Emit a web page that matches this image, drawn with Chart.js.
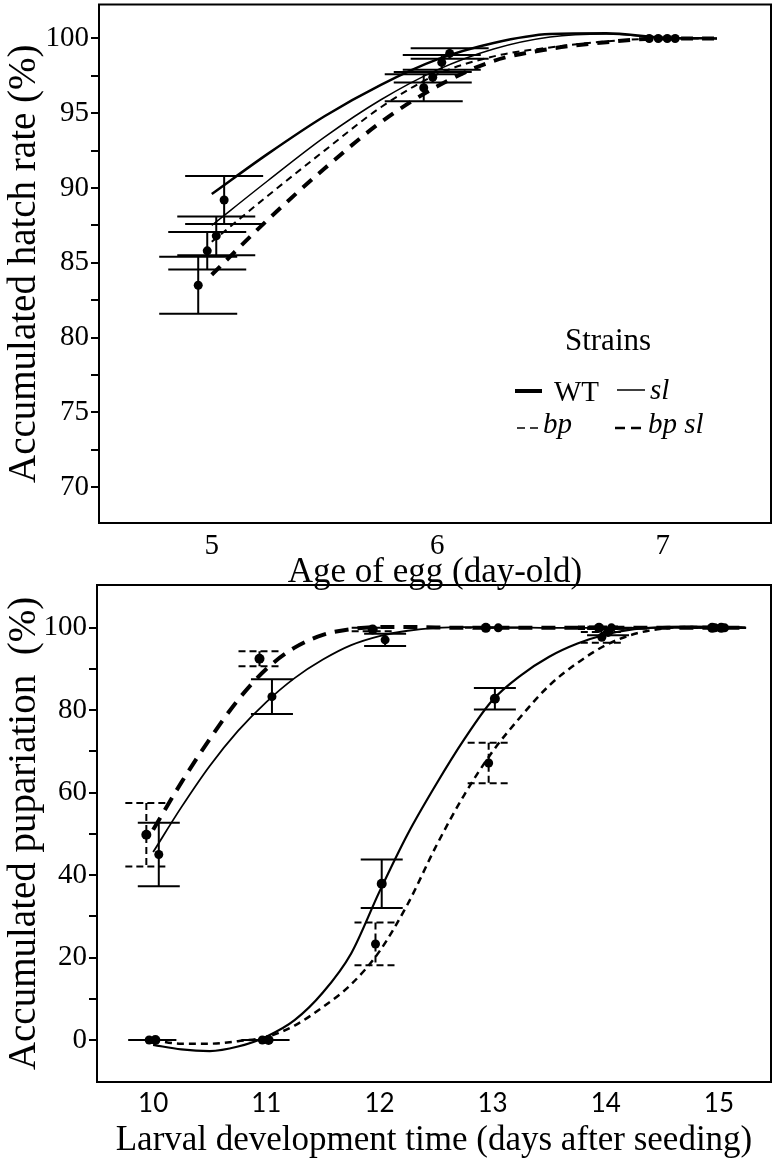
<!DOCTYPE html>
<html><head><meta charset="utf-8">
<script src="https://cdn.jsdelivr.net/npm/chart.js@4.4.1/dist/chart.umd.min.js"></script>
<style>
html,body{margin:0;padding:0;background:#fff;}
#c1{position:absolute;left:0;top:0;}
#c2{position:absolute;left:0;top:570px;}
</style></head><body>
<canvas id="c1" width="780" height="600"></canvas>
<canvas id="c2" width="780" height="597"></canvas>
<script>
// ================= DATA : hatch rate (top panel) =================
const eggDays = [5, 6, 7];
const hatchWT      = [89.2, 99.0, 100];
const hatchWTErr   = [1.6, 0.35, 0];
const hatchSl      = [86.8, 98.4, 100];
const hatchSlErr   = [1.3, 0.5, 0];
const hatchBp      = [85.8, 97.4, 100];
const hatchBpErr   = [1.25, 0.35, 0];
const hatchBpSl    = [83.5, 96.7, 100];
const hatchBpSlErr = [1.9, 0.9, 0];
// fitted curves
const hatchCurveX    = [5.0, 5.25, 5.5, 5.75, 6.0, 6.25, 6.5, 6.75, 7.0, 7.24];
const hatchCurveWT   = [89.6, 92.3, 94.8, 96.9, 98.6, 99.7, 100.3, 100.35, 100.05, 100];
const hatchCurveSl   = [87.5, 90.5, 93.4, 95.9, 97.9, 99.3, 100.1, 100.3, 100.05, 100];
const hatchCurveBp   = [86.4, 89.5, 92.5, 95.4, 97.6, 98.8, 99.4, 99.8, 100, 100];
const hatchCurveBpSl = [84.2, 87.9, 91.3, 94.4, 96.8, 98.5, 99.3, 99.75, 100, 100];
const hatchYTicks = [70, 72.5, 75, 77.5, 80, 82.5, 85, 87.5, 90, 92.5, 95, 97.5, 100];

// ================= DATA : pupariation (bottom panel) =================
const pupDays = [10, 11, 12, 13, 14, 15];
const pupWT      = [0, 0, 37.9, 82.8, 99.0, 100];
const pupWTErr   = [0, 0, 5.9, 2.6, 0.8, 0];
const pupBp      = [0, 0, 23.3, 67.2, 97.7, 100];
const pupBpErr   = [0, 0, 5.2, 4.9, 1.3, 0];
const pupSl      = [45, 83.3, 97.1, 100, 100, 100];
const pupSlErr   = [7.7, 4.2, 1.5, 0, 0, 0];
const pupBpSl    = [49.8, 92.5, 99.6, 100, 100, 100];
const pupBpSlErr = [7.7, 1.8, 0.4, 0, 0.3, 0];
const pupCurveX    = [10, 10.25, 10.5, 10.75, 11, 11.25, 11.5, 11.75, 12, 12.25, 12.5, 12.75, 13, 13.25, 13.5, 13.75, 14, 14.25, 14.5, 14.75, 15, 15.24];
const pupCurveBpSl = [51, 62.5, 73, 82.5, 90, 95.2, 98.3, 99.7, 100.2, 100.2, 100.1, 100, 100, 100, 100, 100, 100, 100, 100, 100, 100, 100];
const pupCurveSl   = [45.6, 56.5, 66.5, 75, 82, 87.8, 92.3, 95.8, 98.0, 99.3, 100.0, 100.2, 100.2, 100.1, 100, 100, 100, 100, 100, 100, 100, 100];
const pupCurveWT   = [-1.2, -2.3, -2.7, -1.6, 0.8, 4.8, 11.5, 21, 36, 50, 62, 73, 82.5, 88.5, 93, 96.2, 98.4, 99.7, 100.2, 100.3, 100.2, 100];
const pupCurveBp   = [0, -0.9, -0.9, -0.3, 0.7, 3.5, 8, 13.5, 21.5, 33, 47, 59.5, 70, 78.5, 86, 91.5, 95.8, 98.5, 99.8, 100.2, 100.2, 100];
const pupYTicks = [0, 10, 20, 30, 40, 50, 60, 70, 80, 90, 100];

// horizontal dodge of the strains (days)
const hatchDodge = {WT: 0.055, sl: 0.02, bp: -0.02, bpsl: -0.06};
const pupDodge   = {WT: 0.02, sl: 0.05, bp: -0.035, bpsl: -0.06};

// ================= helpers =================
const SERIF = 'Liberation Serif';
const zip = (xs, ys, dx = 0) => xs.map((x, i) => ({x: x + dx, y: ys[i]}));
const curve = (xs, ys, width, dash) => ({
  data: zip(xs, ys), showLine: true, pointRadius: 0, borderColor: '#000',
  borderWidth: width, borderDash: dash, cubicInterpolationMode: 'monotone', fill: false
});
const pts = (xs, ys, err, dx, r, capHalf, errDash, capsAlways) => ({
  data: zip(xs, ys, dx), showLine: false, pointRadius: r, pointBackgroundColor: '#000',
  pointBorderColor: '#000', pointBorderWidth: 0, errors: err, capHalf, errDash, capsAlways
});

const errorBars = {
  id: 'errorBars',
  beforeDatasetsDraw(chart) {
    const {ctx, scales: {x, y}} = chart;
    chart.data.datasets.forEach(ds => {
      if (!ds.errors) return;
      ctx.save();
      ctx.strokeStyle = '#000';
      ctx.lineWidth = 2;
      ctx.setLineDash(ds.errDash || []);
      ds.data.forEach((p, j) => {
        const e = ds.errors[j];
        if (!e && !ds.capsAlways) return;
        const px = x.getPixelForValue(p.x);
        const yt = y.getPixelForValue(p.y + e), yb = y.getPixelForValue(p.y - e);
        const c = ds.capHalf;
        ctx.beginPath();
        if (e) { ctx.moveTo(px, yt); ctx.lineTo(px, yb); }
        ctx.moveTo(px - c, yt); ctx.lineTo(px + c, yt);
        ctx.moveTo(px - c, yb); ctx.lineTo(px + c, yb);
        ctx.stroke();
      });
      ctx.restore();
    });
  }
};
const frame = {
  id: 'frame',
  afterDraw(chart) {
    const {ctx, chartArea: a} = chart;
    ctx.save();
    ctx.strokeStyle = '#000'; ctx.lineWidth = 2;
    ctx.strokeRect(a.left, a.top, a.right - a.left, a.bottom - a.top);
    ctx.restore();
  }
};
const legendBox = {
  id: 'legendBox',
  afterDraw(chart) {
    const ctx = chart.ctx;
    ctx.save();
    ctx.fillStyle = '#000'; ctx.strokeStyle = '#000';
    ctx.textBaseline = 'middle';
    ctx.font = '31px "' + SERIF + '"';
    ctx.textAlign = 'center';
    ctx.fillText('Strains', 608, 342);
    ctx.textAlign = 'left';
    const sample = (x1, x2, y, w, dash) => {
      ctx.beginPath(); ctx.lineWidth = w; ctx.setLineDash(dash);
      ctx.moveTo(x1, y); ctx.lineTo(x2, y); ctx.stroke(); ctx.setLineDash([]);
    };
    sample(515, 542, 391, 4, []);
    ctx.font = '29px "' + SERIF + '"';
    ctx.fillText('WT', 554, 393);
    sample(617, 645, 390, 1.5, []);
    ctx.font = 'italic 29px "' + SERIF + '"';
    ctx.fillText('sl', 650, 391);
    sample(517, 541, 428, 1.5, [8, 5]);
    ctx.fillText('bp', 543, 425);
    sample(615, 644, 428, 2.5, [10, 6]);
    ctx.fillText('bp sl', 648, 425);
    ctx.restore();
  }
};

const axisFont = size => ({family: SERIF, size});
function yAxis(min, max, ticks, labelEvery, title, width, titlePad) {
  return {
    type: 'linear', min, max,
    afterBuildTicks: s => { s.ticks = ticks.map(v => ({value: v})); },
    afterFit: s => { s.width = width; s.paddingTop = 0; s.paddingBottom = 0; },
    grid: {display: true, drawOnChartArea: false, drawTicks: true, tickLength: 8, color: '#000', lineWidth: 2},
    border: {display: true, color: '#000', width: 2},
    ticks: {color: '#000', font: axisFont(29), padding: 2,
      callback: v => (Math.abs(v / labelEvery - Math.round(v / labelEvery)) < 1e-6 ? String(v) : '')},
    title: {display: true, text: title, color: '#000', font: axisFont(39), padding: {top: titlePad, bottom: 0}}
  };
}
function xAxis(min, max, ticks, title, height, tickFont, tickPad, titlePad) {
  return {
    type: 'linear', min, max,
    afterBuildTicks: s => { s.ticks = ticks.map(v => ({value: v})); },
    afterFit: s => { s.height = height; s.paddingLeft = 0; s.paddingRight = 0; },
    grid: {display: false, drawTicks: false},
    border: {display: true, color: '#000', width: 2},
    ticks: {color: '#000', font: tickFont, padding: tickPad, maxRotation: 0, autoSkip: false},
    title: {display: true, text: title, color: '#000', font: axisFont(35), padding: {top: 0, bottom: titlePad}}
  };
}
const common = {
  responsive: false, animation: false, devicePixelRatio: 1,
  plugins: {legend: {display: false}, tooltip: {enabled: false}}
};

// ================= TOP CHART =================
new Chart(document.getElementById('c1'), {
  type: 'scatter',
  data: {datasets: [
    curve(hatchCurveX, hatchCurveWT, 2.5, []),
    curve(hatchCurveX, hatchCurveSl, 1.5, []),
    curve(hatchCurveX, hatchCurveBp, 2, [7, 5]),
    curve(hatchCurveX, hatchCurveBpSl, 4, [12, 9]),
    pts(eggDays, hatchWT, hatchWTErr, hatchDodge.WT, 4.5, 39, [], false),
    pts(eggDays, hatchSl, hatchSlErr, hatchDodge.sl, 4.5, 39, [], false),
    pts(eggDays, hatchBp, hatchBpErr, hatchDodge.bp, 4.5, 39, [], false),
    pts(eggDays, hatchBpSl, hatchBpSlErr, hatchDodge.bpsl, 4.5, 39, [], false)
  ]},
  options: Object.assign({}, common, {
    layout: {padding: {left: 0, right: 9, top: 3, bottom: 0}},
    scales: {
      x: xAxis(4.5, 7.48, eggDays, 'Age of egg (day-old)', 77, axisFont(29), 6, 6),
      y: yAxis(67.6, 102.27, hatchYTicks, 5, 'Accumulated hatch rate (%)', 99, 1)
    }
  }),
  plugins: [errorBars, frame, legendBox]
});

// ================= BOTTOM CHART =================
new Chart(document.getElementById('c2'), {
  type: 'scatter',
  data: {datasets: [
    curve(pupCurveX, pupCurveBpSl, 4, [14, 9]),
    curve(pupCurveX, pupCurveSl, 1.8, []),
    curve(pupCurveX, pupCurveWT, 2.2, []),
    curve(pupCurveX, pupCurveBp, 2.5, [7, 5]),
    pts(pupDays, pupBpSl, pupBpSlErr, pupDodge.bpsl, 5, 21, [7, 4], true),
    pts(pupDays, pupSl, pupSlErr, pupDodge.sl, 4.5, 21, [], true),
    pts(pupDays, pupWT, pupWTErr, pupDodge.WT, 5, 21, [], true),
    pts(pupDays, pupBp, pupBpErr, pupDodge.bp, 4.5, 21, [7, 4], true)
  ]},
  options: Object.assign({}, common, {
    layout: {padding: {left: 0, right: 9, top: 15, bottom: 0}},
    scales: {
      x: xAxis(9.504, 15.46, pupDays, 'Larval development time (days after seeding)', 85,
               {family: 'Lato', size: 26}, 6, 5),
      y: yAxis(-10.2, 110.4, pupYTicks, 20, 'Accumulated pupariation  (%)', 97, 1)
    }
  }),
  plugins: [errorBars, frame]
});
</script>
</body></html>
